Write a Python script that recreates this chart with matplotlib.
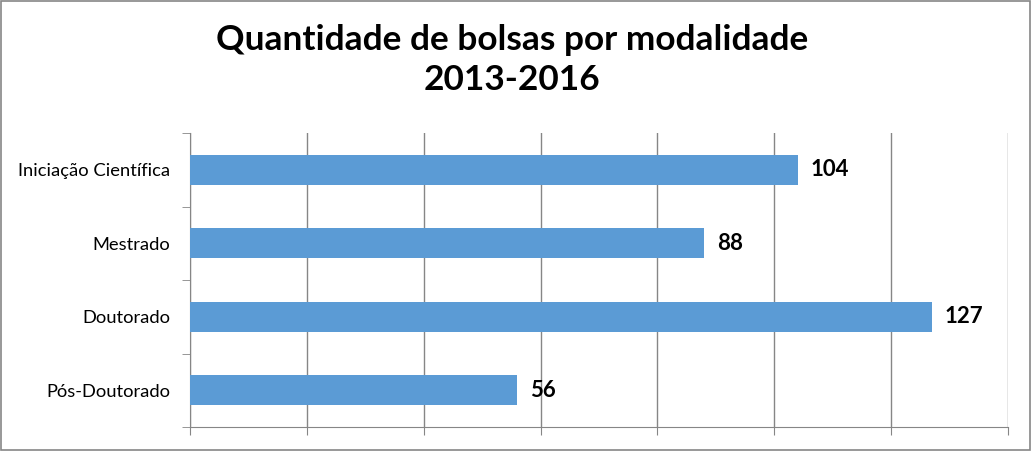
import matplotlib
matplotlib.use('Agg')
import matplotlib.pyplot as plt
from matplotlib.patches import Rectangle

# Data
categorias = ["Iniciação Científica", "Mestrado", "Doutorado", "Pós-Doutorado"]
bolsas = [104, 88, 127, 56]
titulo = "Quantidade de bolsas por modalidade\n2013-2016"

plt.rcParams['font.family'] = ['Lato', 'DejaVu Sans']

fig = plt.figure(figsize=(10.32, 4.51), dpi=100)
ax = fig.add_axes([190 / 1032, 24 / 451, 818 / 1032, 294 / 451])

# bars from top to bottom
pos = list(range(len(categorias)))[::-1]
bars = ax.barh(pos, bolsas, height=0.41, color="#5B9BD5", zorder=3)
for p, v in zip(pos, bolsas):
    ax.annotate(str(v), (v, p), xytext=(9, 0), textcoords="offset points",
                ha="left", va="center", fontsize=16, fontweight="bold",
                color="black")

ax.set_xlim(0, 140)
ax.set_ylim(-0.5, len(categorias) - 0.5)
ax.set_xticks(range(0, 141, 20))
ax.set_xticklabels([])
ax.set_yticks(pos)
ax.set_yticklabels(categorias, fontsize=13.2)
ax.set_yticks([x - 0.5 for x in range(len(categorias) + 1)], minor=True)
ax.tick_params(axis="y", which="major", length=0, pad=14)
ax.tick_params(axis="y", which="minor", length=6, color="#868686")
ax.tick_params(axis="x", length=6, color="#868686")
ax.grid(axis="x", color="#868686", linewidth=1, zorder=0)

for s in ["top", "right"]:
    ax.spines[s].set_visible(False)
for s in ["left", "bottom"]:
    ax.spines[s].set_color("#868686")

fig.text(512 / 1032, 1 - 60 / 451, titulo, ha="center", va="center",
         fontsize=25.4, fontweight="bold", linespacing=1.32)

# outer chart border
fig.patches.append(Rectangle((0.001, 0.002), 0.997, 0.996, transform=fig.transFigure,
                             fill=False, edgecolor="#868686", linewidth=1.2))

fig.savefig("out.png", dpi=100)
